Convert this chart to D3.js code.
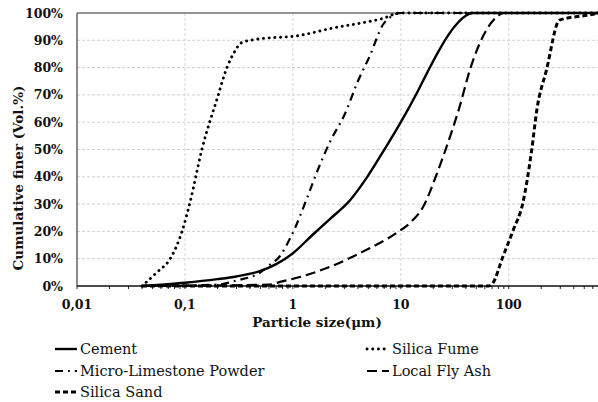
<!DOCTYPE html>
<html>
<head>
<meta charset="utf-8">
<script src="https://cdn.jsdelivr.net/npm/d3@7"></script>
<style>
  body { margin: 0; background: #fff; }
  svg { display: block; font-family: "DejaVu Serif", serif; }
</style>
</head>
<body>
<div id="grafico"></div>
<script>
// --- data (particle size in µm, cumulative % finer) ---
const cementSize   = [0.04, 0.06, 0.1, 0.2, 0.3, 0.5, 0.7, 1.0, 1.5, 2.2, 3.4, 4.8, 6.8, 10, 14, 18, 22, 30, 40, 46, 700];
const cementPct    = [0, 0.5, 1.2, 2.5, 3.5, 5.5, 8, 12, 18.5, 24.5, 31.5, 39.5, 49, 60, 70.5, 79, 85.5, 94, 99, 100, 100];

const fumeSize     = [0.04, 0.055, 0.073, 0.094, 0.112, 0.1435, 0.2, 0.245, 0.29, 0.33, 0.43, 1.16, 2.35, 4.8, 6.8, 9.8, 700];
const fumePct      = [0, 5, 10, 20, 31, 50, 69, 80, 86, 89, 90.2, 91.8, 94.5, 96.7, 98, 100, 100];

const limeSize     = [0.04, 0.2, 0.3, 0.5, 0.6, 0.76, 0.93, 1.04, 1.34, 1.7, 2.2, 3.03, 4, 5.2, 6.8, 8.4, 10, 700];
const limePct      = [0, 0.5, 2, 5, 7.5, 11, 17, 21, 31.8, 42.5, 52.7, 63, 75, 84.6, 95.6, 99, 100, 100];

const flyAshSize   = [0.04, 0.6, 0.76, 1.16, 2.2, 4.4, 9.1, 12.4, 16.1, 21.5, 28.5, 35, 43.5, 57, 77, 90, 700];
const flyAshPct    = [0, 0.5, 1.5, 3.3, 7, 12.5, 19.4, 23.4, 29, 41, 54.6, 65.6, 79, 91, 98.5, 100, 100];

const sandSize     = [0.04, 65, 71, 88, 110, 135, 163, 182, 223, 295, 560, 700];
const sandPct      = [0, 0, 1, 10.6, 20.5, 30.4, 49.8, 64.5, 79, 97.4, 99.3, 100];

const yTicks       = [0, 10, 20, 30, 40, 50, 60, 70, 80, 90, 100];
const xTicks       = [0.01, 0.1, 1, 10, 100];
const xTickLabels  = ["0,01", "0,1", "1", "10", "100"];

// series table built from the arrays above
const series = [
  {name: "Cement",                 size: cementSize, pct: cementPct, dash: null,        width: 2.4, cap: "butt"},
  {name: "Silica Fume",            size: fumeSize,   pct: fumePct,   dash: "0.1,5.6",   width: 2.9, cap: "round"},
  {name: "Micro-Limestone Powder", size: limeSize,   pct: limePct,   dash: "8,5,1.8,5", width: 2.2, cap: "butt"},
  {name: "Local Fly Ash",          size: flyAshSize, pct: flyAshPct, dash: "10,5",      width: 2.2, cap: "butt"},
  {name: "Silica Sand",            size: sandSize,   pct: sandPct,   dash: "5,3",       width: 3,   cap: "butt"}
];

// --- chart settings ---
const W = 598, H = 402;
const margin = {top: 13, left: 77, right: -2, bottom: 116};
const width = W - margin.left - margin.right;
const height = H - margin.top - margin.bottom;

const svg = d3.select("#grafico").append("svg")
    .attr("width", W)
    .attr("height", H);

const g = svg.append("g")
    .attr("transform", `translate(${margin.left},${margin.top})`);

// scales
const x = d3.scaleLog().domain([0.01, 700]).range([0, width]);
const y = d3.scaleLinear().domain([0, 100]).range([height, 0]);

// grid lines
g.append("g").selectAll("line")
  .data(yTicks.filter(d => d > 0 && d < 100))
  .join("line")
    .attr("x1", 0).attr("x2", width)
    .attr("y1", d => y(d)).attr("y2", d => y(d))
    .attr("stroke", "#cfcfcf")
    .attr("stroke-width", 1)
    .attr("stroke-dasharray", "3,2");

g.append("g").selectAll("line")
  .data(xTicks.slice(1))
  .join("line")
    .attr("x1", d => x(d)).attr("x2", d => x(d))
    .attr("y1", 0).attr("y2", height)
    .attr("stroke", "#d6d6d6")
    .attr("stroke-width", 1)
    .attr("stroke-dasharray", "3,2");

// border: top and left
g.append("line")
    .attr("x1", 0).attr("x2", width).attr("y1", 0).attr("y2", 0)
    .attr("stroke", "#6e6e6e").attr("stroke-width", 1.6);
g.append("line")
    .attr("x1", 0).attr("x2", 0).attr("y1", 0).attr("y2", height)
    .attr("stroke", "#6e6e6e").attr("stroke-width", 1.6);

// y tick labels
g.append("g").selectAll("text")
  .data(yTicks)
  .join("text")
    .attr("x", -14)
    .attr("y", d => y(d))
    .attr("dy", "0.36em")
    .attr("text-anchor", "end")
    .attr("font-size", 12.5)
    .attr("font-weight", "bold")
    .attr("fill", "#111")
    .text(d => d + "%");

// x axis with minor ticks pointing down
const minor = [];
for (let e = -2; e <= 2; e++) {
  for (let k = 1; k <= 9; k++) {
    const v = k * Math.pow(10, e);
    if (v <= 700) minor.push(v);
  }
}
g.append("g").selectAll("line")
  .data(minor)
  .join("line")
    .attr("x1", d => x(d)).attr("x2", d => x(d))
    .attr("y1", height).attr("y2", height + 3)
    .attr("stroke", "#222").attr("stroke-width", 1);

g.append("line")
    .attr("x1", 0).attr("x2", width).attr("y1", height).attr("y2", height)
    .attr("stroke", "#111").attr("stroke-width", 1.6);

g.append("g").selectAll("text")
  .data(xTicks)
  .join("text")
    .attr("x", d => x(d))
    .attr("y", height + 23)
    .attr("text-anchor", "middle")
    .attr("font-size", 12.5)
    .attr("font-weight", "bold")
    .attr("fill", "#111")
    .text((d, i) => xTickLabels[i]);

// axis titles
svg.append("text")
    .attr("x", 317)
    .attr("y", 327)
    .attr("text-anchor", "middle")
    .attr("font-size", 13.5)
    .attr("font-weight", "bold")
    .attr("fill", "#111")
    .text("Particle size(μm)");

svg.append("text")
    .attr("transform", "translate(23,178) rotate(-90)")
    .attr("text-anchor", "middle")
    .attr("font-size", 13.5)
    .attr("font-weight", "bold")
    .attr("fill", "#111")
    .text("Cumulative finer (Vol.%)");

// curves, clipped to the plot area
svg.append("clipPath").attr("id", "clip")
  .append("rect")
    .attr("x", 0).attr("y", -3).attr("width", width).attr("height", height + 5);

const line = d3.line()
    .x(d => x(d[0]))
    .y(d => y(d[1]))
    .curve(d3.curveMonotoneX);

g.append("g").attr("clip-path", "url(#clip)")
  .selectAll("path")
  .data(series)
  .join("path")
    .attr("d", s => line(s.size.map((v, i) => [v, s.pct[i]])))
    .attr("fill", "none")
    .attr("stroke", "#000")
    .attr("stroke-width", s => s.width)
    .attr("stroke-linecap", s => s.cap)
    .attr("stroke-dasharray", s => s.dash);

// legend
const legendPos = [
  {name: "Cement",                 lx: 55,  ly: 349},
  {name: "Silica Fume",            lx: 367, ly: 349},
  {name: "Micro-Limestone Powder", lx: 55,  ly: 371},
  {name: "Local Fly Ash",          lx: 367, ly: 371},
  {name: "Silica Sand",            lx: 55,  ly: 392}
];

const legend = svg.append("g").selectAll("g")
  .data(legendPos)
  .join("g")
    .attr("transform", p => `translate(${p.lx},${p.ly})`);

legend.append("line")
    .attr("x1", 0).attr("x2", 22).attr("y1", 0).attr("y2", 0)
    .attr("stroke", "#000")
    .each(function(p) {
      const s = series.find(d => d.name === p.name);
      d3.select(this)
        .attr("stroke-width", s.width)
        .attr("stroke-linecap", s.cap)
        .attr("stroke-dasharray", s.dash);
    });

legend.append("text")
    .attr("x", 25)
    .attr("dy", "0.35em")
    .attr("font-size", 14.5)
    .attr("fill", "#111")
    .text(p => p.name);
</script>
</body>
</html>
